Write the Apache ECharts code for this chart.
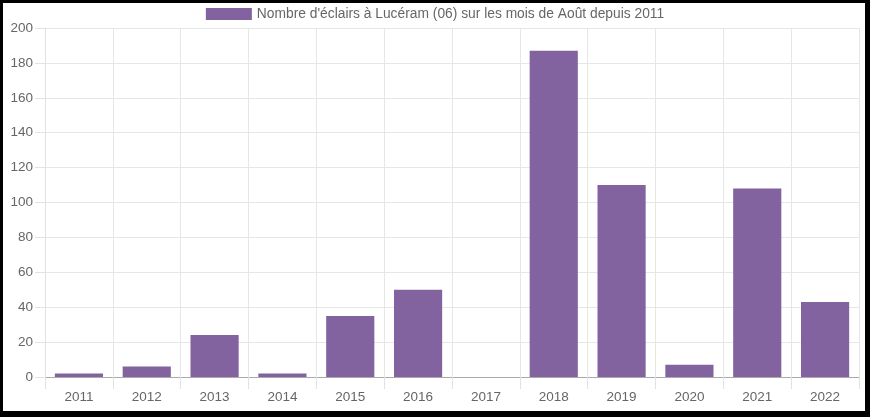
<!DOCTYPE html>
<html>
<head>
<meta charset="utf-8">
<script src="https://cdn.jsdelivr.net/npm/echarts@6/dist/echarts.min.js"></script>
<style>
html,body{margin:0;padding:0;background:#fff;}
#wrap{position:relative;width:870px;height:417px;}
#chart{position:absolute;left:0;top:0;width:870px;height:417px;}
#frame{position:absolute;left:0;top:0;width:870px;height:417px;box-sizing:border-box;border-style:solid;border-color:#000;border-width:3px 5px 6px 3px;pointer-events:none;}
</style>
</head>
<body>
<div id="wrap"><div id="chart"></div><div id="frame"></div></div>
<script>
const categories = ['2011','2012','2013','2014','2015','2016','2017','2018','2019','2020','2021','2022'];
const seriesName = "Nombre d'éclairs à Lucéram (06) sur les mois de Août depuis 2011";
const values = [2, 6, 24, 2, 35, 50, 0, 187, 110, 7, 108, 43];
const yMin = 0, yMax = 200, yStep = 20;

const chart = echarts.init(document.getElementById('chart'), null, {renderer:'canvas'});
chart.setOption({
  animation:false,
  textStyle:{fontFamily:'Liberation Sans, Arial, sans-serif'},
  legend:{
    top:2, left:'center',
    itemWidth:46, itemHeight:12, itemGap:10,
    icon:'rect',
    textStyle:{color:'#666', fontSize:13.8, fontFamily:'Liberation Sans, Arial, sans-serif'},
    data:[seriesName]
  },
  grid:{left:45, right:11, top:28, bottom:40, containLabel:false},
  xAxis:{
    type:'category', data:categories, boundaryGap:true,
    axisLine:{show:true, lineStyle:{color:'#aaa', width:1}},
    axisTick:{show:true, length:12, alignWithLabel:false, lineStyle:{color:'#e2e2e2'}},
    axisLabel:{color:'#666', fontSize:13.5, margin:13, fontFamily:'Liberation Sans, Arial, sans-serif'},
    splitLine:{show:true, lineStyle:{color:'#e6e6e6'}}
  },
  yAxis:{
    type:'value', min:yMin, max:yMax, interval:yStep,
    axisLine:{show:true, lineStyle:{color:'#e2e2e2'}},
    axisTick:{show:true, length:10, lineStyle:{color:'#e2e2e2'}},
    axisLabel:{color:'#666', fontSize:13.5, margin:12, fontFamily:'Liberation Sans, Arial, sans-serif'},
    splitLine:{show:true, lineStyle:{color:'#e6e6e6'}}
  },
  series:[{
    name:seriesName, type:'bar', data:values,
    barCategoryGap:'29%',
    itemStyle:{color:'#8263a0'}
  }]
});
</script>
</body>
</html>
